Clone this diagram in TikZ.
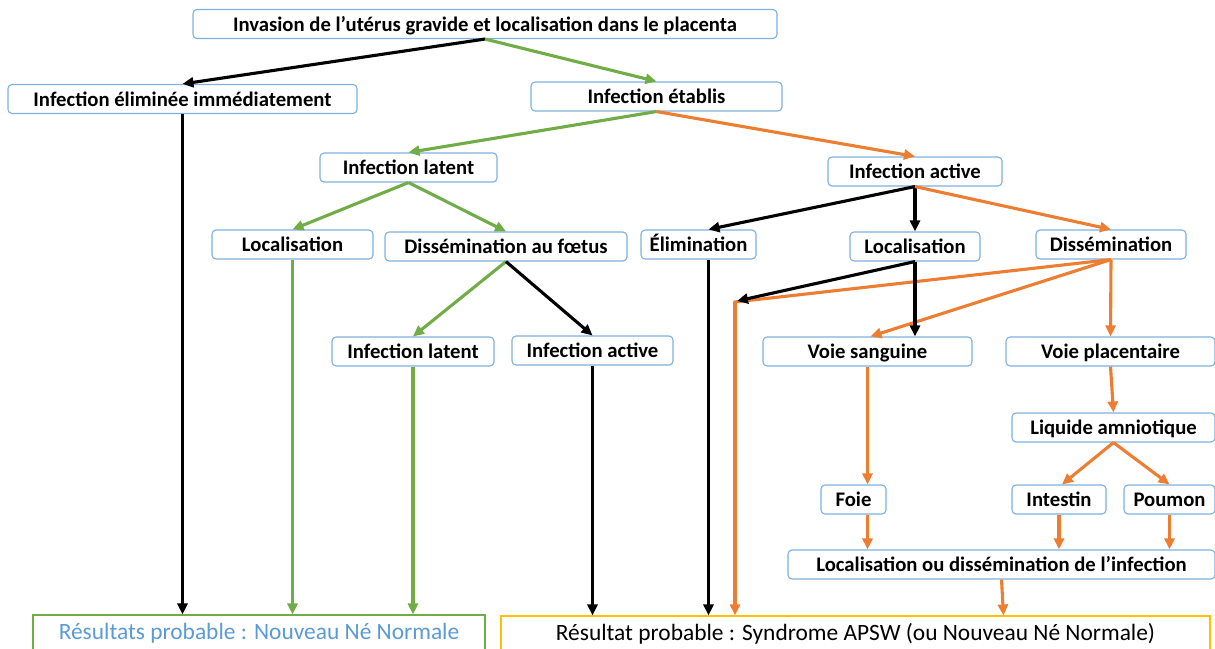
\documentclass[tikz,border=0pt]{standalone}
\usepackage{fontspec}
\setmainfont{Carlito}
\usetikzlibrary{arrows.meta,calc}
\definecolor{bx}{HTML}{7EB0E0}
\definecolor{grn}{HTML}{70AD47}
\definecolor{org}{HTML}{ED7D31}
\definecolor{ylw}{HTML}{FFC000}
\definecolor{bluetxt}{HTML}{5B9BD5}
\begin{document}
\begin{tikzpicture}[x=1pt,y=-1pt,
  box/.style={draw=bx, line width=1.1pt, rounded corners=4pt, fill=white, font=\bfseries\fontsize{20.7}{24}\selectfont, inner sep=0pt, minimum height=29pt, text height=16pt, text depth=2pt},
  res/.style={line width=1.1pt, fill=white, font=\fontsize{23.4}{26}\selectfont, inner sep=0pt, minimum height=36pt, text height=16pt, text depth=4pt},
  ar/.style={-{Triangle[length=11pt,width=10pt]}, line width=3.1pt},
  ln/.style={line width=3.1pt}]
\useasboundingbox (0,0) rectangle (1215,648);
% nodes
\node[box, minimum width=584pt] (top) at (485,24) {Invasion de l’utérus gravide et localisation dans le placenta};
\node[box, minimum width=349pt] (elimim) at (182.5,99) {Infection éliminée immédiatement};
\node[box, minimum width=251pt] (etab) at (656.5,96.5) {Infection établis};
\node[box, minimum width=177pt] (lat1) at (408.5,167.5) {Infection latent};
\node[box, minimum width=174pt] (act1) at (915,171.5) {Infection active};
\node[box, minimum width=161pt] (loc1) at (292.5,244.5) {Localisation};
\node[box, minimum width=242pt] (dissf) at (506,246.5) {Dissémination au fœtus};
\node[box, minimum width=115pt] (elim) at (698.5,244.5) {Élimination};
\node[box, minimum width=130pt] (loc2) at (915,246.5) {Localisation};
\node[box, minimum width=150pt] (diss) at (1111,244.5) {Dissémination};
\node[box, minimum width=162pt] (lat2) at (413,351.5) {Infection latent};
\node[box, minimum width=161pt] (act2) at (592.5,350.5) {Infection active};
\node[box, minimum width=209pt] (vs) at (867.5,351.5) {Voie sanguine};
\node[box, minimum width=209pt] (vp) at (1110.5,351.5) {Voie placentaire};
\node[box, minimum width=203pt] (liq) at (1113.5,427.5) {Liquide amniotique};
\node[box, minimum width=65pt] (foie) at (853.5,499.5) {Foie};
\node[box, minimum width=94pt] (int) at (1059,499.5) {Intestin};
\node[box, minimum width=91pt] (poum) at (1169.5,499.5) {Poumon};
\node[box, minimum width=427pt] (locd) at (1001.5,564.5) {Localisation ou dissémination de l’infection};
\node[res, draw=grn, text=bluetxt, minimum width=452pt] (res1) at (259,633) {Résultats probable : Nouveau Né Normale};
\node[res, draw=ylw, text=black, minimum width=709pt] (res2) at (855.5,634) {Résultat probable : Syndrome APSW (ou Nouveau Né Normale)};
\coordinate (c1) at (735,302);
\coordinate (e1) at ($(elim.south)+(10,0)$);
% connectors
\draw[ar] (top.south) -- (elimim.north);
\draw[ar, grn] (top.south) -- (etab.north);
\draw[ar] (elimim.south) -- (elimim.south |- res1.north);
\draw[ar, grn] (etab.south) -- (lat1.north);
\draw[ar, org] (etab.south) -- (act1.north);
\draw[ar, grn] (lat1.south) -- (loc1.north);
\draw[ar, grn] (lat1.south) -- (dissf.north);
\draw[ar, grn] (loc1.south) -- (loc1.south |- res1.north);
\draw[ar, grn] (dissf.south) -- (lat2.north);
\draw[ar] (dissf.south) -- (act2.north);
\draw[ar, grn] (lat2.south) -- (lat2.south |- res1.north);
\draw[ar] (act2.south) -- (act2.south |- res2.north);
\draw[ar] (act1.south) -- ($(elim.north)+(10,0)$);
\draw[ar] (act1.south) -- (loc2.north);
\draw[ar, org] (act1.south) -- (diss.north);
\draw[ar] (e1) -- (e1 |- res2.north);
\draw[ar, org] (diss.south) -- ($(vs.north)+(3,0)$);
\draw[ar, org] (diss.south) -- (vp.north);
\draw[ln, org, line join=miter] (diss.south) -- (c1) -- ++(0,5);
\draw[ar, org] (c1) -- (c1 |- res2.north);
\draw[ar] (loc2.south) -- ($(c1)+(2,-1)$);
\draw[ar] (loc2.south) -- (loc2.south |- vs.north);
\draw[ar, org] (vs.south) -- (vs.south |- foie.north);
\draw[ar, org] (vp.south) -- (liq.north);
\draw[ar, org] (liq.south) -- ($(int.north)+(3,0)$);
\draw[ar, org] (liq.south) -- (poum.north);
\draw[ar, org] (vs.south |- foie.south) -- (vs.south |- locd.north);
\draw[ar, org] (int.south) -- (int.south |- locd.north);
\draw[ar, org] (poum.south) -- (poum.south |- locd.north);
\draw[ar, org] (locd.south) -- ($(locd.south |- res2.north)+(2,0)$);
\end{tikzpicture}
\end{document}
